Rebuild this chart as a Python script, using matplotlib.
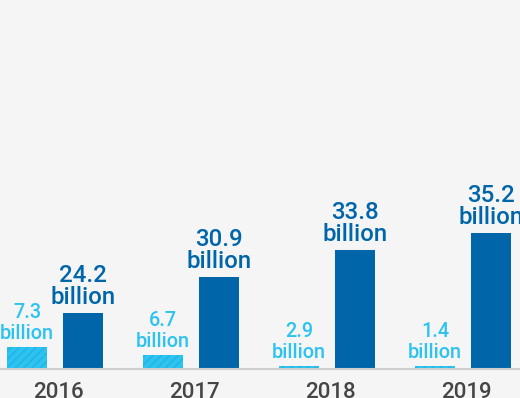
import numpy as np
import matplotlib
matplotlib.use('Agg')
from matplotlib import pyplot as plt

plt.rcParams['font.family'] = ['Roboto', 'DejaVu Sans']
plt.rcParams['font.weight'] = 'medium'
plt.rcParams['hatch.linewidth'] = 1.0

years = ['2016', '2017', '2018', '2019']
light_values = [7.3, 6.7, 2.9, 1.4]
dark_values = [24.2, 30.9, 33.8, 35.2]
# bar heights as drawn in the original graphic (not to scale with the values)
light_heights = [22, 14, 3, 3]
dark_heights = [56, 92, 119, 136]

light_color = '#2cc3f0'
dark_color = '#0066a9'
bg = '#f5f5f5'

fig = plt.figure(figsize=(5.2, 3.98), dpi=100, facecolor=bg)
ax = fig.add_axes([0, 29 / 398, 1, 369 / 398], facecolor=bg)

x = np.arange(len(years))
w = 40 / 136
off = 28 / 136

ax.bar(x - off, light_heights, w, color=light_color, edgecolor='#22b3e3',
       hatch='////', linewidth=0)
ax.bar(x + off, dark_heights, w, color=dark_color, linewidth=0)

for i in range(len(years)):
    ax.annotate(f'{light_values[i]}\nbillion', (x[i] - off, light_heights[i]),
                xytext=(0, 3), textcoords='offset points', ha='center', va='bottom',
                fontsize=14.3, color=light_color, linespacing=1.1)
    ax.annotate(f'{dark_values[i]}\nbillion', (x[i] + off, dark_heights[i]),
                xytext=(0, 3), textcoords='offset points', ha='center', va='bottom',
                fontsize=17.3, color=dark_color, linespacing=0.95)

ax.set_xlim(-55 / 136, 465 / 136)
ax.set_ylim(0, 369)
ax.set_xticks(x + 3 / 136)
ax.set_xticklabels(years, fontsize=16, color='#454545')
ax.tick_params(axis='x', length=0, pad=9)
ax.set_yticks([])
for s in ['top', 'left', 'right']:
    ax.spines[s].set_visible(False)
ax.spines['bottom'].set_color('#cfcfcf')
ax.spines['bottom'].set_linewidth(1.5)

fig.savefig('out.png', dpi=100, facecolor=bg)
